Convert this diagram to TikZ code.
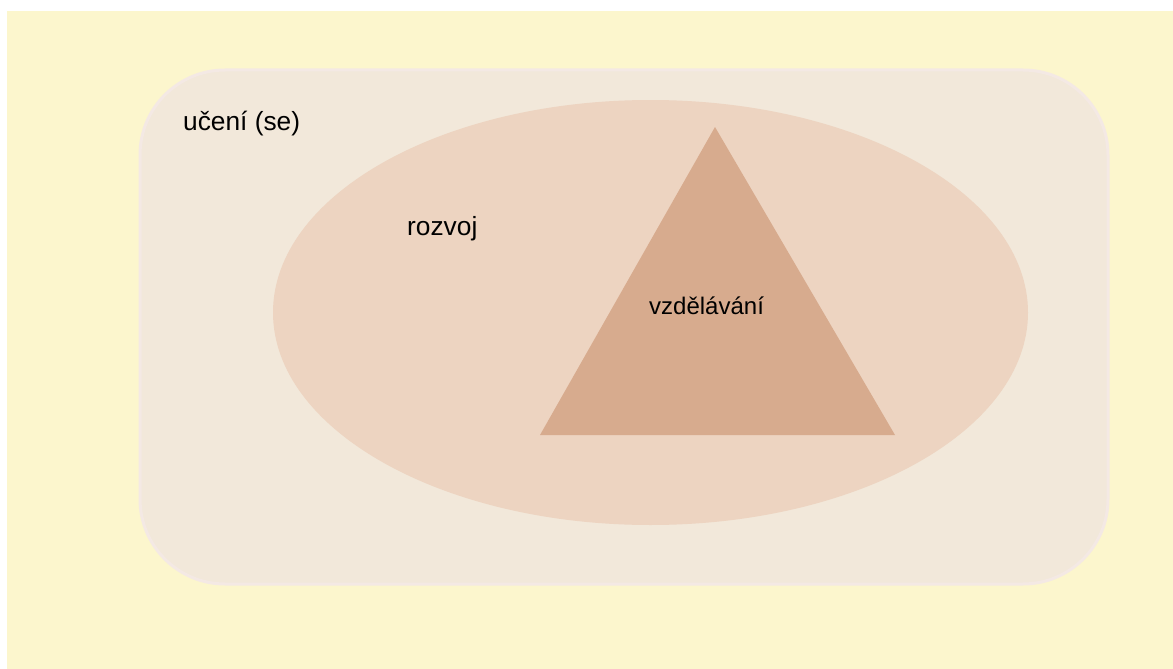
\documentclass[tikz,border=0pt]{standalone}
\usepackage{fontspec}
\setmainfont{Liberation Sans}
\definecolor{pozadi}{HTML}{FCF6CD}
\definecolor{uceni}{HTML}{F2E8DA}
\definecolor{okraj}{HTML}{F4E9E4}
\definecolor{rozvoj}{HTML}{EDD4C1}
\definecolor{vzdel}{HTML}{D7AB8E}
\begin{document}
\begin{tikzpicture}[x=1pt, y=-1pt]
    \useasboundingbox (0,0) rectangle (1173,669);
    \fill[pozadi] (7,11) rectangle (1173,669);
    \draw[fill=uceni, draw=okraj, line width=3pt, rounded corners=85pt] (140,70) rectangle (1108,584);
    \fill[rozvoj] (650.5,312.5) ellipse [x radius=377.5, y radius=212.5];
    \fill[vzdel] (715,127) -- (895,435) -- (540,435) -- cycle;
\node (uc) at (183,130)[anchor=base west, inner sep=0, font=\fontsize{26.3}{31}\selectfont]{učení (se)};
\node (rz) at (407,235)[anchor=base west, inner sep=0, font=\fontsize{26.3}{31}\selectfont]{rozvoj};
\node (vz) at (649,314)[anchor=base west, inner sep=0, font=\fontsize{24}{29}\selectfont]{vzdělávání};
\end{tikzpicture}
\end{document}
